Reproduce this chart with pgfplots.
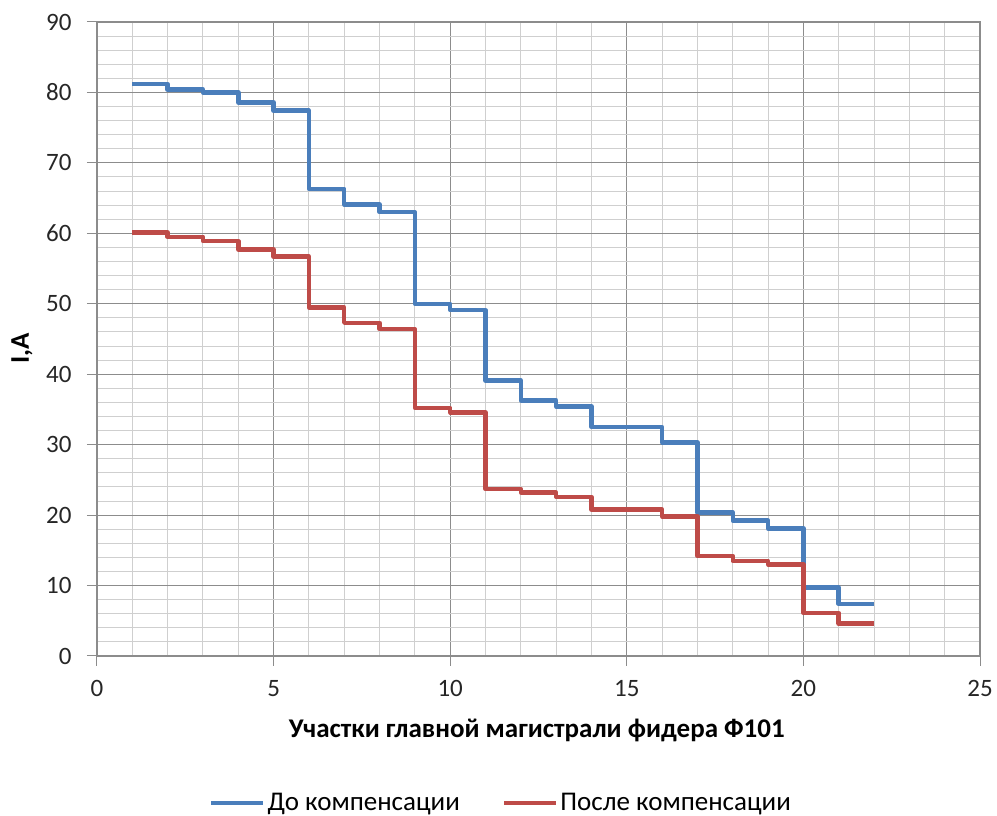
\documentclass[border=0pt]{standalone}
\usepackage{fontspec}
\setmainfont{Carlito}
\usepackage{pgfplots}
\pgfplotsset{compat=1.18}

\definecolor{seriesblue}{HTML}{4A7EBB}
\definecolor{seriesred}{HTML}{BE4B48}
\definecolor{majorgrid}{HTML}{8C8C8C}
\definecolor{minorgrid}{HTML}{CFCFCF}

\begin{document}
\begin{tikzpicture}
\begin{axis}[
  scale only axis,
  width=883pt, height=634pt,
  xmin=0, xmax=25, ymin=0, ymax=90,
  xtick={0,5,...,25}, ytick={0,10,...,90},
  minor xtick={0,1,...,25}, minor ytick={0,2,...,90},
  grid=both,
  major grid style={majorgrid, line width=1pt},
  minor grid style={minorgrid, line width=1pt},
  axis line style={majorgrid, line width=1.2pt},
  tick align=outside,
  major tick length=10pt, minor tick length=0pt,
  tick style={majorgrid, line width=1pt},
  xtick pos=bottom, ytick pos=left,
  /pgf/number format/assume math mode=true,
  tick label style={font=\fontsize{25}{29}\selectfont, text=black!85},
  xticklabel style={yshift=-11pt},
  yticklabel style={xshift=-12pt},
  xlabel={\textbf{Участки главной магистрали фидера Ф101}},
  ylabel={\textbf{I,A}},
  xlabel style={at={(axis description cs:0.498,-0.118)}, anchor=center, font=\fontsize{27}{31}\selectfont},
  ylabel style={at={(axis description cs:-0.085,0.485)}, anchor=center, font=\fontsize{27}{31}\selectfont},
  legend style={at={(axis description cs:0.4575,-0.232)}, anchor=center,
    draw=none, legend columns=2, font=\fontsize{27}{31}\selectfont,
    /tikz/every even column/.append style={column sep=40pt}},
  legend image code/.code={\draw[#1] (0pt,0pt) -- (52pt,0pt);},
  clip=false,
]
\addplot[const plot, seriesblue, line width=4.5pt, line join=round]
  coordinates {(1,81.2) (2,80.4) (3,80.0) (4,78.6) (5,77.4) (6,66.3) (7,64.1)
    (8,63.0) (9,50.0) (10,49.1) (11,39.1) (12,36.3) (13,35.4) (14,32.5) (15,32.5)
    (16,30.3) (17,20.4) (18,19.2) (19,18.1) (20,9.7) (21,7.4) (22,7.4)};
\addlegendentry{До компенсации}
\addplot[const plot, seriesred, line width=4.5pt, line join=round]
  coordinates {(1,60.1) (2,59.5) (3,58.9) (4,57.7) (5,56.7) (6,49.5) (7,47.3)
    (8,46.4) (9,35.2) (10,34.6) (11,23.7) (12,23.2) (13,22.6) (14,20.8) (15,20.8)
    (16,19.8) (17,14.2) (18,13.5) (19,13.0) (20,6.1) (21,4.6) (22,4.6)};
\addlegendentry{После компенсации}
\coordinate (LL) at (rel axis cs:0,0);
\coordinate (UR) at (rel axis cs:1,1);
\end{axis}
\pgfresetboundingbox
\path[use as bounding box] ([shift={(-97pt,-160pt)}]LL) rectangle ([shift={(17pt,22pt)}]UR);
\end{tikzpicture}
\end{document}
